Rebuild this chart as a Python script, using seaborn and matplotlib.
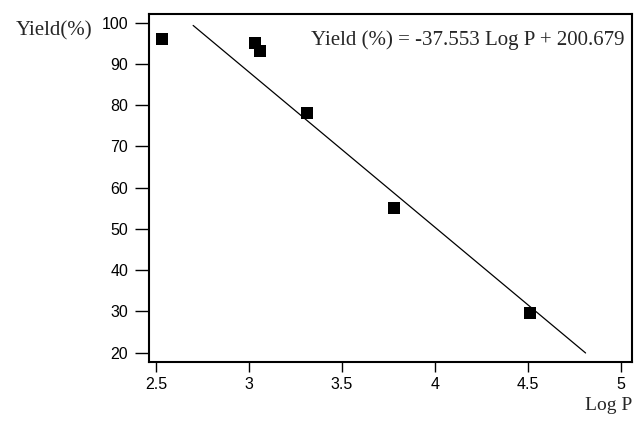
import seaborn as sns
import matplotlib.pyplot as plt
import pandas as pd

# data
log_p = [2.53, 3.03, 3.06, 3.31, 3.78, 4.51]
yield_pct = [96, 95, 93, 78, 55, 29.5]

# ends of the fitted line
fit_x = [2.70, 4.81]
fit_y = [99.3, 19.9]

x_ticks = [2.5, 3, 3.5, 4, 4.5, 5]
y_ticks = [20, 30, 40, 50, 60, 70, 80, 90, 100]
equation = "Yield (%) = -37.553 Log P + 200.679"

sns.set_style("ticks")
plt.rcParams['font.family'] = ['Liberation Sans', 'DejaVu Sans']

df = pd.DataFrame({'logp': log_p, 'yield': yield_pct})

fig = plt.figure(figsize=(6.37, 4.21), dpi=100)
ax = fig.add_axes([0.234, 0.141, 0.758, 0.826])

sns.lineplot(x=fit_x, y=fit_y, color='black', linewidth=0.9, ax=ax)
sns.scatterplot(data=df, x='logp', y='yield', marker='s', s=80,
                color='black', edgecolor='black', linewidth=0, ax=ax, zorder=3)

ax.set_xlim(2.463, 5.059)
ax.set_ylim(17.8, 102.1)
ax.set_xticks(x_ticks)
ax.set_xticklabels(['2.5', '3', '3.5', '4', '4.5', '5'])
ax.set_yticks(y_ticks)
ax.tick_params(direction='out', width=1, colors='black', labelsize=11.5)
ax.tick_params(axis='y', length=10, pad=5)
ax.tick_params(axis='x', length=7, pad=4)
for s in ax.spines.values():
    s.set_visible(True)
    s.set_linewidth(1.5)
    s.set_color('black')

ax.set_xlabel('')
ax.set_ylabel('')
fig.text(0.024, 0.926, 'Yield(%)', family='Liberation Serif', fontsize=15,
         ha='left', va='center')
fig.text(0.992, 0.036, 'Log P', family='Liberation Serif', fontsize=14,
         ha='right', va='center')
ax.text(0.985, 0.925, equation, transform=ax.transAxes, family='Liberation Serif',
        fontsize=15, ha='right', va='center')

fig.savefig('out.png', dpi=100)
